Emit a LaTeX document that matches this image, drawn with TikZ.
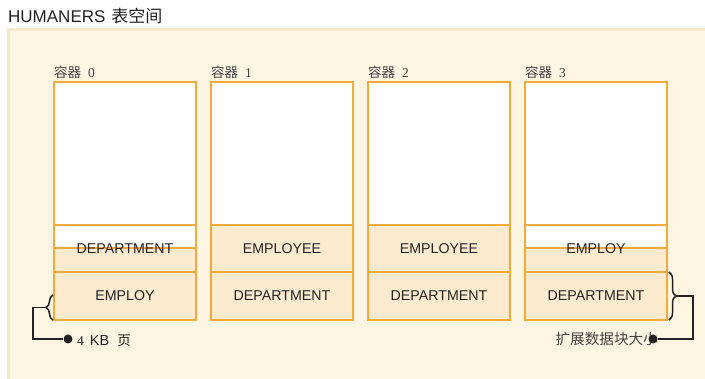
\documentclass[tikz,border=0pt]{standalone}
\usepackage{fontspec}
\setmainfont{Liberation Serif}
\setsansfont{Liberation Sans}
\newfontfamily\cjk{Noto Sans CJK SC}
\newfontfamily\arialf{Liberation Sans}
\newfontfamily\serif{Liberation Serif}
\usetikzlibrary{decorations.pathreplacing}
\definecolor{panel}{HTML}{FEF5E3}
\definecolor{panelEdge}{HTML}{F6E6CB}
\definecolor{cellfill}{HTML}{FDEBCF}
\definecolor{cellline}{HTML}{F5AA3A}
\definecolor{ink}{HTML}{222222}
\begin{document}
\begin{tikzpicture}[x=1pt,y=-1pt,
  cell/.style={draw=cellline, line width=1.1pt, anchor=north west, inner sep=0pt, outer sep=0pt, minimum width=142pt},
  whitecell/.style={cell, fill=white},
  lightcell/.style={cell, fill=cellfill},
  boxtext/.style={inner sep=0pt, font=\fontsize{14.2}{16}\arialf, text=ink},
  clabel/.style={anchor=base west, inner sep=0pt, text=ink!85},
  conn/.style={draw=ink, line width=1.8pt},
  dotnode/.style={circle, fill=ink, inner sep=0pt, minimum size=9pt},
  bracestyle/.style={draw=ink, line width=1.5pt, decorate, decoration={brace, amplitude=7pt}}
]
\useasboundingbox (0,0) rectangle (705,379);
\fill[white] (0,0) rectangle (705,379);
\fill[panelEdge] (7,28) rectangle (705,379);
\fill[panel] (10,31) rectangle (705,379);

\node[anchor=base west, inner sep=0pt, text=ink] (title) at (8,23) {\fontsize{17}{19}\arialf HUMANERS\hspace{6pt}{\cjk 表空间}};

% containers
\foreach \i/\x in {0/54,1/211,2/368,3/525}{
  \node[clabel] (lab\i) at (\x,78) {\fontsize{13.5}{15}\cjk 容器\hspace{7pt}\serif\fontsize{13.5}{15}\selectfont\i};
  \node[whitecell, minimum height=143pt] (top\i) at (\x,82) {};
  \node[lightcell, minimum height=48pt] (bot\i) at (\x,272) {};
}
% container 0 and 3 middle: half white, half light
\node[whitecell, minimum height=23pt] (mida0) at (54,225) {};
\node[lightcell, minimum height=24pt] (midb0) at (54,248) {};
\node[whitecell, minimum height=23pt] (mida3) at (525,225) {};
\node[lightcell, minimum height=24pt] (midb3) at (525,248) {};
% container 1 and 2 middle: light
\node[lightcell, minimum height=47pt] (mid1) at (211,225) {};
\node[lightcell, minimum height=47pt] (mid2) at (368,225) {};

% texts
\node[boxtext] (t0a) at (125,248.5) {DEPARTMENT};
\node[boxtext] (t0b) at (bot0.center) {EMPLOY};
\node[boxtext] (t1a) at (mid1.center) {EMPLOYEE};
\node[boxtext] (t1b) at (bot1.center) {DEPARTMENT};
\node[boxtext] (t2a) at (mid2.center) {EMPLOYEE};
\node[boxtext] (t2b) at (bot2.center) {DEPARTMENT};
\node[boxtext] (t3a) at (596,248.5) {EMPLOY};
\node[boxtext] (t3b) at (bot3.center) {DEPARTMENT};

% left brace: 4 KB page
\coordinate (lbTop) at (53,295);
\coordinate (lbBot) at (53,320);
\draw[bracestyle] (lbBot) -- (lbTop);
\coordinate (lbTip) at (46,307.5);
\node[dotnode] (dotL) at (68,339) {};
\draw[conn] (lbTip) -- (33,307.5) |- (dotL);
\node[anchor=base west, inner sep=0pt, text=ink] (labL) at (77,346) {\serif\fontsize{13.5}{15}\selectfont 4\hspace{6pt}\arialf\fontsize{14.5}{16}\selectfont KB\hspace{8pt}\cjk\fontsize{13.5}{15}\selectfont 页};

% right brace: extent size
\coordinate (rbTop) at (669,272);
\coordinate (rbBot) at (669,320);
\draw[bracestyle] (rbTop) -- (rbBot);
\coordinate (rbTip) at (676,296);
\node[anchor=base east, inner sep=0pt, text=ink!85] (labR) at (658,345) {\cjk\fontsize{14.6}{16}\selectfont 扩展数据块大小};
\node[dotnode] (dotR) at (653,339) {};
\draw[conn] (rbTip) -- (693,296) |- (dotR);
\end{tikzpicture}
\end{document}
